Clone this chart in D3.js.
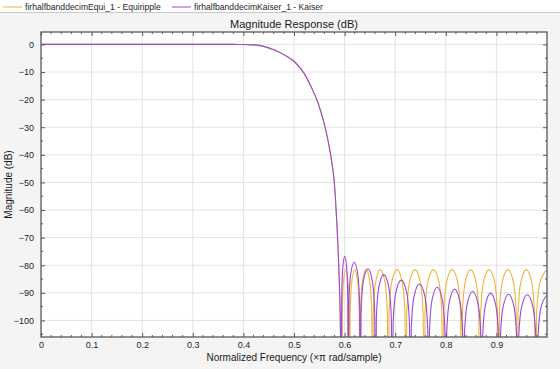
<!DOCTYPE html>
<html>
<head>
<meta charset="utf-8">
<script src="https://cdn.jsdelivr.net/npm/d3@7"></script>
<style>
  body { margin: 0; background: #f4f4f4; }
  svg { display: block; font-family: "Liberation Sans", Arial, sans-serif; }
  .tick-label { font-size: 9px; fill: #262626; }
  .legend text { font-size: 8.6px; fill: #262626; }
</style>
</head>
<body>
<svg id="chart"></svg>
<script>
// series names
var seriesNames = ["firhalfbanddecimEqui_1 - Equiripple", "firhalfbanddecimKaiser_1 - Kaiser"];
var seriesColors = ["#EFB43E", "#9A48D8"];

// tick labels
var xTicks = [0, 0.1, 0.2, 0.3, 0.4, 0.5, 0.6, 0.7, 0.8, 0.9];
var xTickLabels = ["0", "0.1", "0.2", "0.3", "0.4", "0.5", "0.6", "0.7", "0.8", "0.9"];
var yTicks = [0, -10, -20, -30, -40, -50, -60, -70, -80, -90, -100];

// passband + transition (both filters overlap here)
var passFreq = [0, 0.1, 0.2, 0.3, 0.38, 0.40, 0.42, 0.44, 0.46, 0.48, 0.50, 0.52, 0.535, 0.548, 0.558, 0.568, 0.575, 0.578, 0.582, 0.585, 0.588, 0.5905, 0.592];
var passMag  = [0, 0, 0, 0, 0, -0.02, -0.15, -0.7, -1.9, -3.7, -6.1, -10.5, -15.8, -21.5, -27.5, -35.5, -43, -47, -56, -66, -78, -92, -106];

// equiripple stopband (read lobe by lobe: null, sides, peak)
var eqFreq = [
  0.5945, 0.5953, 0.5976, 0.6023, 0.6069, 0.6092,
  0.610, 0.611, 0.614, 0.620, 0.626, 0.629,
  0.630, 0.6313, 0.635, 0.6425, 0.650, 0.6538,
  0.655, 0.6566, 0.6612, 0.6705, 0.6798, 0.6845,
  0.686, 0.6878, 0.693, 0.7035, 0.714, 0.7193,
  0.721, 0.7228, 0.7282, 0.739, 0.7498, 0.7552,
  0.757, 0.7589, 0.7644, 0.7755, 0.7866, 0.7922,
  0.794, 0.7959, 0.8014, 0.8125, 0.8236, 0.8292,
  0.831, 0.8328, 0.8382, 0.849, 0.8598, 0.8652,
  0.867, 0.8689, 0.8744, 0.8855, 0.8966, 0.9022,
  0.904, 0.9059, 0.9114, 0.9225, 0.9336, 0.9392,
  0.941, 0.9428, 0.9482, 0.959, 0.9698, 0.9752,
  0.977, 0.9793, 0.9862, 1.0
];
var eqMag = [
  -150, -97.6, -86.2, -81.6, -86.2, -97.6,
  -150, -97.6, -86.2, -81.6, -86.2, -97.6,
  -150, -97.6, -86.2, -81.6, -86.2, -97.6,
  -150, -97.6, -86.2, -81.6, -86.2, -97.6,
  -150, -97.6, -86.2, -81.6, -86.2, -97.6,
  -150, -97.6, -86.2, -81.6, -86.2, -97.6,
  -150, -97.6, -86.2, -81.6, -86.2, -97.6,
  -150, -97.6, -86.2, -81.6, -86.2, -97.6,
  -150, -97.6, -86.2, -81.6, -86.2, -97.6,
  -150, -97.6, -86.2, -81.6, -86.2, -97.6,
  -150, -97.6, -86.2, -81.6, -86.2, -97.6,
  -150, -97.6, -86.2, -81.6, -86.2, -97.6,
  -150, -97.6, -86.2, -81.6
];

// kaiser stopband, sidelobes decaying
var kaiserFreq = [
  0.5935, 0.5942, 0.5962, 0.6003, 0.6043, 0.6063,
  0.607, 0.6082, 0.6118, 0.619, 0.6262, 0.6298,
  0.631, 0.6325, 0.637, 0.646, 0.655, 0.6595,
  0.661, 0.6627, 0.6676, 0.6775, 0.6874, 0.6924,
  0.694, 0.6958, 0.7012, 0.712, 0.7228, 0.7282,
  0.730, 0.7318, 0.7372, 0.748, 0.7588, 0.7642,
  0.766, 0.7677, 0.7728, 0.783, 0.7932, 0.7983,
  0.800, 0.8018, 0.807, 0.8175, 0.828, 0.8333,
  0.835, 0.8368, 0.8422, 0.853, 0.8638, 0.8692,
  0.871, 0.8728, 0.878, 0.8885, 0.899, 0.9043,
  0.906, 0.9078, 0.9132, 0.924, 0.9348, 0.9402,
  0.942, 0.9439, 0.9496, 0.961, 0.9724, 0.9781,
  0.980, 0.982, 0.988, 1.0
];
var kaiserMag = [
  -150, -92.8, -81.4, -76.8, -81.4, -92.8,
  -150, -94.9, -83.5, -78.9, -83.5, -94.9,
  -150, -97.3, -85.9, -81.3, -85.9, -97.3,
  -150, -99.4, -88.0, -83.4, -88.0, -99.4,
  -150, -101.4, -90.0, -85.4, -90.0, -101.4,
  -150, -102.8, -91.4, -86.8, -91.4, -102.8,
  -150, -104.0, -92.6, -88.0, -92.6, -104.0,
  -150, -104.7, -93.3, -88.7, -93.3, -104.7,
  -150, -105.5, -94.1, -89.5, -94.1, -105.5,
  -150, -106.1, -94.7, -90.1, -94.7, -106.1,
  -150, -106.5, -95.1, -90.5, -95.1, -106.5,
  -150, -106.7, -95.3, -90.7, -95.3, -106.7,
  -150, -106.8, -95.4, -90.8
];

var width = 560, height = 369;
var margin = {top: 32, right: 13, bottom: 32, left: 41};
var plotW = width - margin.left - margin.right,
    plotH = height - margin.top - margin.bottom;

var xScale = d3.scaleLinear().domain([0, 1]).range([0, plotW]);
var yScale = d3.scaleLinear().domain([-106, 4.5]).range([plotH, 0]);

var svg = d3.select("#chart")
    .attr("width", width)
    .attr("height", height);

// legend band at the top
svg.append("rect")
    .attr("width", width).attr("height", 12)
    .attr("fill", "#ffffff");
svg.append("line")
    .attr("x1", 0).attr("x2", width)
    .attr("y1", 12.5).attr("y2", 12.5)
    .attr("stroke", "#c8c8c8");

var legendX = [3, 172];
var legend = svg.selectAll(".legend")
    .data(seriesNames)
    .enter().append("g")
    .attr("class", "legend")
    .attr("transform", function(d, i) { return "translate(" + legendX[i] + ",7)"; });
legend.append("line")
    .attr("x1", 0).attr("x2", 19)
    .attr("stroke", function(d, i) { return seriesColors[i]; })
    .attr("stroke-width", 1);
legend.append("text")
    .attr("x", 22)
    .attr("dy", "0.33em")
    .text(function(d) { return d; });

// title
svg.append("text")
    .attr("x", margin.left + plotW / 2)
    .attr("y", 28)
    .attr("text-anchor", "middle")
    .style("font-size", "11px")
    .style("fill", "#1a1a1a")
    .text("Magnitude Response (dB)");

var g = svg.append("g")
    .attr("transform", "translate(" + margin.left + "," + margin.top + ")");

g.append("rect")
    .attr("width", plotW).attr("height", plotH)
    .attr("fill", "#ffffff");

// grid
g.selectAll(".xgrid")
    .data(xTicks.slice(1))
    .enter().append("line")
    .attr("x1", function(d) { return xScale(d); })
    .attr("x2", function(d) { return xScale(d); })
    .attr("y1", 0).attr("y2", plotH)
    .attr("stroke", "#e3e3e3");
g.selectAll(".ygrid")
    .data(yTicks)
    .enter().append("line")
    .attr("y1", function(d) { return yScale(d); })
    .attr("y2", function(d) { return yScale(d); })
    .attr("x1", 0).attr("x2", plotW)
    .attr("stroke", "#e3e3e3");

// curves
g.append("clipPath").attr("id", "clip")
    .append("rect").attr("width", plotW).attr("height", plotH);

function toPoints(fr, mag) {
    return fr.map(function(f, i) { return {f: f, m: mag[i]}; });
}
var eqData = toPoints(passFreq.concat(eqFreq), passMag.concat(eqMag));
var kaiserData = toPoints(passFreq.concat(kaiserFreq), passMag.concat(kaiserMag));

var line = d3.line()
    .x(function(d) { return xScale(d.f); })
    .y(function(d) { return yScale(d.m); })
    .curve(d3.curveMonotoneX);

[eqData, kaiserData].forEach(function(data, i) {
    g.append("path")
        .datum(data)
        .attr("clip-path", "url(#clip)")
        .attr("fill", "none")
        .attr("stroke", seriesColors[i])
        .attr("stroke-width", 1.1)
        .attr("d", line);
});

// axes box with inward ticks on all sides
var axisColor = "#5a5a5a";
var xAxis = d3.axisBottom(xScale).tickValues(xTicks)
    .tickFormat(function(d, i) { return xTickLabels[i]; })
    .tickSizeInner(-4).tickSizeOuter(0).tickPadding(5);
var yAxis = d3.axisLeft(yScale).tickValues(yTicks)
    .tickSizeInner(-4).tickSizeOuter(0).tickPadding(7);

var gx = g.append("g")
    .attr("transform", "translate(0," + plotH + ")")
    .call(xAxis);
var gy = g.append("g").call(yAxis);
[gx, gy].forEach(function(a) {
    a.select(".domain").remove();
    a.selectAll("line").attr("stroke", axisColor);
    a.selectAll("text").attr("class", "tick-label").attr("font-family", null).attr("font-size", null);
});

var gTop = g.append("g").call(d3.axisTop(xScale).tickValues(xTicks).tickSizeInner(-4).tickSizeOuter(0).tickFormat(""));
var gRight = g.append("g").attr("transform", "translate(" + plotW + ",0)")
    .call(d3.axisRight(yScale).tickValues(yTicks).tickSizeInner(-4).tickSizeOuter(0).tickFormat(""));
[gTop, gRight].forEach(function(a) {
    a.select(".domain").remove();
    a.selectAll("line").attr("stroke", axisColor);
});

// minor ticks
var xMinor = d3.range(0.02, 1, 0.02).filter(function(d) { return Math.abs(d * 10 - Math.round(d * 10)) > 0.01; });
var yMinor = d3.range(-105, 4, 5).filter(function(d) { return d % 10 !== 0; });
xMinor.forEach(function(d) {
    g.append("line").attr("x1", xScale(d)).attr("x2", xScale(d))
        .attr("y1", plotH).attr("y2", plotH - 2).attr("stroke", axisColor);
    g.append("line").attr("x1", xScale(d)).attr("x2", xScale(d))
        .attr("y1", 0).attr("y2", 2).attr("stroke", axisColor);
});
yMinor.forEach(function(d) {
    g.append("line").attr("y1", yScale(d)).attr("y2", yScale(d))
        .attr("x1", 0).attr("x2", 2).attr("stroke", axisColor);
    g.append("line").attr("y1", yScale(d)).attr("y2", yScale(d))
        .attr("x1", plotW).attr("x2", plotW - 2).attr("stroke", axisColor);
});

g.append("rect")
    .attr("width", plotW).attr("height", plotH)
    .attr("fill", "none")
    .attr("stroke", axisColor)
    .attr("stroke-width", 1.3);

// axis labels
svg.append("text")
    .attr("x", margin.left + plotW / 2)
    .attr("y", 361)
    .attr("text-anchor", "middle")
    .style("font-size", "10px")
    .style("fill", "#1a1a1a")
    .text("Normalized Frequency (\u00d7\u03c0 rad/sample)");
svg.append("text")
    .attr("transform", "translate(12," + (margin.top + plotH / 2) + ") rotate(-90)")
    .attr("text-anchor", "middle")
    .style("font-size", "10px")
    .style("fill", "#1a1a1a")
    .text("Magnitude (dB)");
</script>
</body>
</html>
